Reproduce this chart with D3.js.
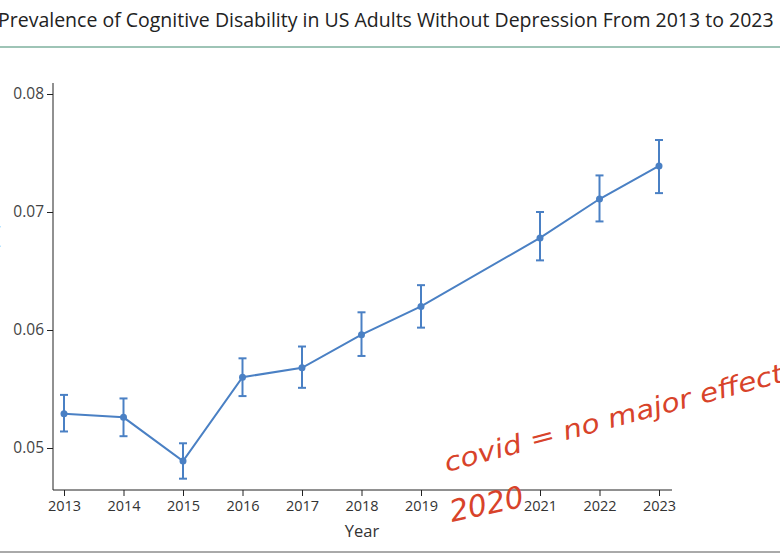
<!DOCTYPE html>
<html><head><meta charset="utf-8">
<script src="https://cdn.jsdelivr.net/npm/d3@7"></script>
<style>body{margin:0;background:#fff}</style>
</head><body><div></div>
<script>
const width = 780, height = 557
const years = [2013, 2014, 2015, 2016, 2017, 2018, 2019, 2021, 2022, 2023]
const prevalence = [0.0529, 0.0526, 0.0489, 0.0560, 0.0568, 0.0596, 0.0620, 0.0678, 0.0711, 0.0739]
const lower = [0.0514, 0.0510, 0.0474, 0.0544, 0.0551, 0.0578, 0.0602, 0.0659, 0.0692, 0.0716]
const upper = [0.0545, 0.0542, 0.0504, 0.0576, 0.0586, 0.0615, 0.0638, 0.0700, 0.0731, 0.0761]
const xTicks = [2013, 2014, 2015, 2016, 2017, 2018, 2019, 2021, 2022, 2023]
const yTicks = [0.05, 0.06, 0.07, 0.08]
const font = "'Open Sans', 'Noto Sans', sans-serif"
const col = "#4a80c4"

const svg = d3.select("div").append("svg")
    .attr("width", width).attr("height", height)
    .style("font-family", font)

// title + rules
svg.append("text").attr("x", -2).attr("y", 27).style("font-size", "19.5px").attr("fill", "#222")
    .text("Prevalence of Cognitive Disability in US Adults Without Depression From 2013 to 2023")
svg.append("line").attr("x1", 0).attr("x2", width).attr("y1", 47).attr("y2", 47)
    .attr("stroke", "#3f8a6e").attr("stroke-width", 1.2)
svg.append("line").attr("x1", 0).attr("x2", width).attr("y1", 552).attr("y2", 552)
    .attr("stroke", "#555").attr("stroke-width", 1)

// scales
const x = d3.scaleLinear().domain([2013, 2023]).range([64, 659])
const y = d3.scaleLinear().domain([0.05, 0.08]).range([448, 94])

// axes
const gx = svg.append("g").attr("transform", "translate(0,490)")
    .call(d3.axisBottom(x).tickValues(xTicks).tickFormat(d3.format("d")).tickSizeOuter(0))
gx.select(".domain").attr("d", "M53,0H672")
const gy = svg.append("g").attr("transform", "translate(53,0)")
    .call(d3.axisLeft(y).tickValues(yTicks).tickFormat(d3.format(".2f")).tickSizeOuter(0))
gy.select(".domain").attr("d", "M0,83V490")
gx.attr("font-size", 14.5).attr("font-family", font)
gy.attr("font-size", 15.5).attr("font-family", font)
gx.selectAll(".tick text").attr("fill", "#333").attr("dy", "0.85em")
gy.selectAll(".tick text").attr("fill", "#444")
svg.selectAll(".domain, .tick line").attr("stroke", "#222")

svg.append("text").attr("x", 362).attr("y", 537).attr("text-anchor", "middle")
    .style("font-size", "16.5px").attr("fill", "#333").text("Year")
svg.append("text").attr("transform", "translate(-4,290) rotate(-90)").attr("text-anchor", "middle")
    .style("font-size", "16px").attr("fill", "#333").text("Prevalence (% of adult population)")

// line + error bars
const pts = years.map((yr, i) => ({yr, v: prevalence[i], lo: lower[i], hi: upper[i]}))
svg.append("path").datum(pts)
    .attr("d", d3.line().x(d => x(d.yr)).y(d => y(d.v)))
    .attr("fill", "none").attr("stroke", col).attr("stroke-width", 2)
const eb = svg.selectAll(".eb").data(pts).enter().append("g").attr("stroke", col).attr("stroke-width", 2)
eb.append("line").attr("x1", d => x(d.yr)).attr("x2", d => x(d.yr))
    .attr("y1", d => y(d.lo)).attr("y2", d => y(d.hi))
eb.append("line").attr("x1", d => x(d.yr) - 4).attr("x2", d => x(d.yr) + 4)
    .attr("y1", d => y(d.lo)).attr("y2", d => y(d.lo))
eb.append("line").attr("x1", d => x(d.yr) - 4).attr("x2", d => x(d.yr) + 4)
    .attr("y1", d => y(d.hi)).attr("y2", d => y(d.hi))
svg.selectAll(".pt").data(pts).enter().append("circle")
    .attr("cx", d => x(d.yr)).attr("cy", d => y(d.v)).attr("r", 3.5).attr("fill", col)

// handwritten annotation
const red = "#d8432a"
svg.append("text").attr("transform", "translate(447,472) rotate(-15)")
    .style("font-size", "26px").attr("fill", red).attr("font-style", "italic")
    .style("font-family", "'DejaVu Sans', sans-serif").attr("font-weight", 200)
    .attr("textLength", 350).attr("lengthAdjust", "spacingAndGlyphs")
    .text("covid = no major effect")
svg.append("text").attr("transform", "translate(452,522) rotate(-12)")
    .style("font-size", "30px").attr("fill", red).attr("font-style", "italic")
    .style("font-family", "'DejaVu Sans', sans-serif").attr("font-weight", 200)
    .attr("textLength", 75).attr("lengthAdjust", "spacingAndGlyphs")
    .text("2020")
</script></body></html>
